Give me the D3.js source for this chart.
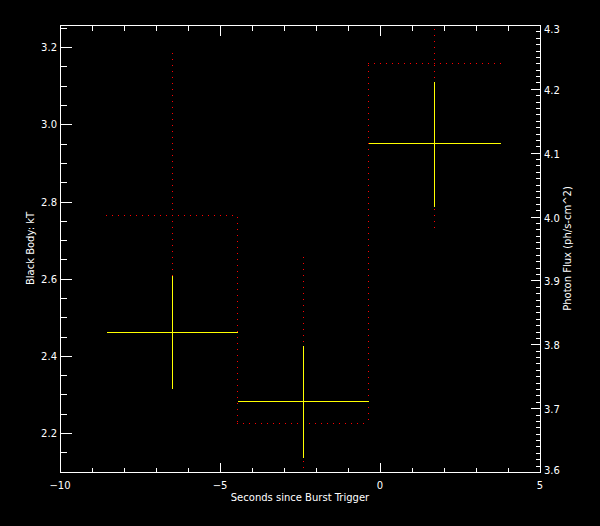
<!DOCTYPE html>
<html>
<head>
<meta charset="utf-8">
<script src="https://cdn.jsdelivr.net/npm/d3@7"></script>
<style>
  html, body { margin: 0; padding: 0; background: #000; }
  svg { display: block; }
  text { font-family: "DejaVu Sans", sans-serif; fill: #fff; }
</style>
</head>
<body>
<svg id="chart" width="600" height="526"></svg>
<script>
// ---- data ----
const binStart  = [-8.56, -4.46, -0.36];
const binEnd    = [-4.46, -0.36, 3.76];
const binCenter = [-6.51, -2.41, 1.70];
const kT        = [2.462, 2.284, 2.951];
const kTLow     = [2.318, 2.137, 2.789];
const kTHigh    = [2.609, 2.429, 3.112];
const flux      = [4.002, 3.676, 4.240];
const fluxLow   = [3.748, 3.415, 3.980];
const fluxHigh  = [4.256, 3.937, 4.500];

const xTicks = [-10, -5, 0, 5];
const leftTicks = [2.2, 2.4, 2.6, 2.8, 3.0, 3.2];
const rightTicks = [3.6, 3.7, 3.8, 3.9, 4.0, 4.1, 4.2, 4.3];
const xTitle = "Seconds since Burst Trigger";
const leftTitle = "Black Body: kT";
const rightTitle = "Photon Flux (ph/s-cm^2)";

// ---- layout ----
const L = 60, R = 540, T = 25, B = 472;
const svg = d3.select("#chart");
svg.append("rect").attr("width", 600).attr("height", 526).attr("fill", "#000");

const x = d3.scaleLinear().domain([-10, 5]).range([L, R]);
const yL = d3.scaleLinear().domain([2.099, 3.2575]).range([B, T]);
const yR = d3.scaleLinear().domain([3.6, 4.3]).range([B, T]);

const px = v => Math.round(v) + 0.5;
const pi = v => Math.round(v);

svg.append("defs").append("clipPath").attr("id", "clip")
  .append("rect").attr("x", L).attr("y", T).attr("width", R - L).attr("height", B - T);

// ---- red dotted histogram (flux, right axis) ----
const red = svg.append("g").attr("clip-path", "url(#clip)")
  .attr("stroke", "#ff0000").attr("stroke-width", 1).attr("fill", "none")
  .attr("stroke-dasharray", "1,5").attr("shape-rendering", "crispEdges");
// horizontal steps
flux.forEach((f, i) => {
  red.append("line")
    .attr("x1", pi(x(binStart[i]))).attr("x2", pi(x(binEnd[i])) + 1)
    .attr("y1", px(yR(f))).attr("y2", px(yR(f)));
});
// vertical connectors between steps
for (let i = 1; i < flux.length; i++) {
  const a = Math.min(yR(flux[i - 1]), yR(flux[i]));
  const b = Math.max(yR(flux[i - 1]), yR(flux[i]));
  red.append("line")
    .attr("x1", px(x(binStart[i]))).attr("x2", px(x(binStart[i])))
    .attr("y1", pi(a) + 2).attr("y2", pi(b) + 1);
}
// error bars
flux.forEach((f, i) => {
  red.append("line")
    .attr("x1", px(x(binCenter[i]))).attr("x2", px(x(binCenter[i])))
    .attr("y1", pi(yR(fluxHigh[i]))).attr("y2", pi(yR(fluxLow[i])));
});

// ---- yellow kT points with error bars ----
const yel = svg.append("g").attr("stroke", "#ffff00").attr("stroke-width", 1)
  .attr("shape-rendering", "crispEdges");
kT.forEach((k, i) => {
  yel.append("line")
    .attr("x1", px(x(binStart[i]))).attr("x2", px(x(binEnd[i])))
    .attr("y1", px(yL(k))).attr("y2", px(yL(k)));
  yel.append("line")
    .attr("x1", px(x(binCenter[i]))).attr("x2", px(x(binCenter[i])))
    .attr("y1", px(yL(kTHigh[i]))).attr("y2", px(yL(kTLow[i])));
});

// ---- axes ----
const ax = svg.append("g").attr("stroke", "#fff").attr("stroke-width", 1)
  .attr("shape-rendering", "crispEdges");
ax.append("rect").attr("x", px(L)).attr("y", px(T))
  .attr("width", R - L).attr("height", B - T).attr("fill", "none");

// x ticks (bottom & top)
const xMinor = d3.range(-10, 5.001, 1);
xMinor.forEach(v => {
  const major = xTicks.includes(Math.round(v));
  const len = major ? 10 : 5;
  const xx = px(x(v));
  ax.append("line").attr("x1", xx).attr("x2", xx).attr("y1", px(B)).attr("y2", px(B) - len);
  ax.append("line").attr("x1", xx).attr("x2", xx).attr("y1", px(T)).attr("y2", px(T) + len);
});
xTicks.forEach(v => {
  svg.append("text").attr("x", x(v)).attr("y", 489)
    .attr("text-anchor", "middle").attr("font-size", 10)
    .text(d3.format("d")(v).replace("-", "\u2212"));
});

// left ticks
const lMinor = d3.range(2.1, 3.26, 0.05);
lMinor.forEach(v => {
  const major = leftTicks.some(t => Math.abs(t - v) < 1e-6);
  const len = major ? 11 : 6;
  const yy = px(yL(v));
  ax.append("line").attr("x1", px(L)).attr("x2", px(L) + len).attr("y1", yy).attr("y2", yy);
});
leftTicks.forEach(v => {
  svg.append("text").attr("x", 57).attr("y", yL(v) + 4)
    .attr("text-anchor", "end").attr("font-size", 10)
    .text(d3.format(".1f")(v));
});

// right ticks
const rMinor = d3.range(3.6, 4.3001, 0.01);
rMinor.forEach(v => {
  const major = rightTicks.some(t => Math.abs(t - v) < 1e-6);
  const len = major ? 10 : 5;
  const yy = px(yR(v));
  ax.append("line").attr("x1", px(R)).attr("x2", px(R) - len).attr("y1", yy).attr("y2", yy);
});
rightTicks.forEach(v => {
  const yy = Math.max(29, Math.min(470, yR(v) + 1));
  svg.append("text").attr("x", 544).attr("y", yy + 4)
    .attr("text-anchor", "start").attr("font-size", 10)
    .text(d3.format(".1f")(v));
});

// titles
svg.append("text").attr("x", (L + R) / 2).attr("y", 501)
  .attr("text-anchor", "middle").attr("font-size", 10).text(xTitle);
svg.append("text").attr("transform", `translate(34,${(T + B) / 2}) rotate(-90)`)
  .attr("text-anchor", "middle").attr("font-size", 10).text(leftTitle);
svg.append("text").attr("transform", `translate(571,${(T + B) / 2}) rotate(-90)`)
  .attr("text-anchor", "middle").attr("font-size", 10).text(rightTitle);
</script>
</body>
</html>
